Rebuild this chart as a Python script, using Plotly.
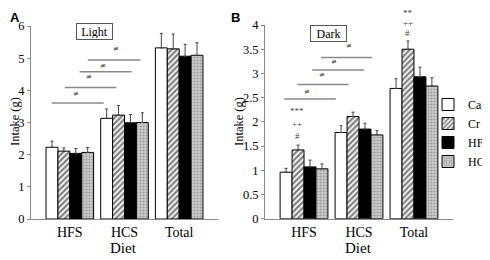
import plotly.graph_objects as go

categories = ["HFS", "HCS", "Total"]
groups = ["Ca", "Cr", "HF", "HC"]

# Panel A (Light) means and upper SEM
light_vals = {
    "Ca": [2.23, 3.13, 5.32],
    "Cr": [2.11, 3.23, 5.29],
    "HF": [2.04, 2.99, 5.06],
    "HC": [2.07, 3.00, 5.09],
}
light_err = {
    "Ca": [0.19, 0.29, 0.45],
    "Cr": [0.10, 0.30, 0.46],
    "HF": [0.15, 0.26, 0.37],
    "HC": [0.15, 0.30, 0.39],
}
# Panel B (Dark)
dark_vals = {
    "Ca": [0.96, 1.78, 2.69],
    "Cr": [1.42, 2.11, 3.50],
    "HF": [1.07, 1.85, 2.93],
    "HC": [1.03, 1.73, 2.74],
}
dark_err = {
    "Ca": [0.08, 0.14, 0.20],
    "Cr": [0.10, 0.09, 0.17],
    "HF": [0.14, 0.12, 0.20],
    "HC": [0.10, 0.09, 0.17],
}

light_ticks = [0, 1, 2, 3, 4, 5, 6]
dark_ticks = [0, 0.5, 1, 1.5, 2, 2.5, 3, 3.5, 4]

SERIF = "Liberation Serif"

styles = {
    "Ca": dict(color="white", pattern=None),
    "Cr": dict(color="white", pattern=dict(shape="/", fgcolor="black", bgcolor="white", size=4, solidity=0.55)),
    "HF": dict(color="black", pattern=None),
    "HC": dict(color="#bdbdbd", pattern=dict(shape=".", fgcolor="#666666", bgcolor="#cccccc", size=3, solidity=0.35)),
}

fig = go.Figure()

def add_panel(vals, errs, xa, ya, show):
    for g in groups:
        st = styles[g]
        marker = dict(color=st["color"], line=dict(color="black", width=1))
        if st["pattern"] is not None:
            marker["pattern"] = st["pattern"]
        fig.add_trace(go.Bar(
            x=categories, y=vals[g], name=g, marker=marker,
            error_y=dict(type="data", array=errs[g], arrayminus=[0] * len(errs[g]),
                         symmetric=False, color="#444", thickness=1, width=1.5),
            xaxis=xa, yaxis=ya, showlegend=show, legendgroup=g,
        ))

add_panel(light_vals, light_err, "x", "y", False)
add_panel(dark_vals, dark_err, "x2", "y2", True)

# The page places the figure 8 px in from the window's top-left corner,
# so the figure is 8 px smaller and screen positions are converted here.
OFF = 8
W, H = 490 - OFF, 260 - OFF

def SX(x):
    return (x - OFF) / W

def SY(y):
    return 1 - (y - OFF) / H

axis_common = dict(showline=True, linecolor="#8a8a8a", linewidth=1, showgrid=False,
                   zeroline=False, automargin=False)

fig.update_layout(
    width=W, height=H, margin=dict(l=0, r=0, t=0, b=0, autoexpand=False),
    paper_bgcolor="white", plot_bgcolor="white",
    barmode="group", bargap=0.13, bargroupgap=0,
    font=dict(family=SERIF, color="black"),
    xaxis=dict(domain=[SX(31), SX(218)], range=[-0.71, 2.71], anchor="y",
               ticks="", tickfont=dict(size=14, family=SERIF), **axis_common),
    yaxis=dict(domain=[SY(219), SY(26)], range=[0, 6], anchor="x",
               tickvals=light_ticks, ticks="outside", ticklen=3, tickcolor="#8a8a8a",
               tickfont=dict(size=12.5, family=SERIF), **axis_common),
    xaxis2=dict(domain=[SX(265), SX(453)], range=[-0.71, 2.71], anchor="y2",
                ticks="", tickfont=dict(size=14, family=SERIF), **axis_common),
    yaxis2=dict(domain=[SY(218.7), SY(25)], range=[0, 4], anchor="x2",
                tickvals=dark_ticks, ticktext=[("%g" % v) for v in dark_ticks],
                ticks="outside", ticklen=3, tickcolor="#8a8a8a",
                tickfont=dict(size=12.5, family=SERIF), **axis_common),
    legend=dict(x=1, y=SY(90), xanchor="right", yanchor="top",
                font=dict(size=12, family=SERIF), bgcolor="rgba(0,0,0,0)",
                itemwidth=30, tracegroupgap=0),
)

# significance lines (layout decorations)
light_lines = [(-0.33, 0.62, 3.61), (-0.09, 0.85, 4.09), (0.18, 1.13, 4.58), (0.33, 1.29, 4.94)]
light_neq = [(0.11, 3.88), (0.35, 4.41), (0.60, 4.75), (0.85, 5.28)]
dark_lines = [(-0.36, 0.58, 2.47), (-0.12, 0.81, 2.77), (0.15, 1.09, 3.07), (0.31, 1.24, 3.33)]
dark_neq = [(0.05, 2.62), (0.33, 2.97), (0.55, 3.24), (0.82, 3.57)]

shapes = []
annotations = []
C = dict(xanchor="center", yanchor="middle", showarrow=False)
for (x0, x1, yv) in light_lines:
    shapes.append(dict(type="line", xref="x", yref="y", x0=x0, x1=x1, y0=yv, y1=yv,
                       line=dict(color="#8a8a8a", width=1.5)))
for (x0, x1, yv) in dark_lines:
    shapes.append(dict(type="line", xref="x2", yref="y2", x0=x0, x1=x1, y0=yv, y1=yv,
                       line=dict(color="#8a8a8a", width=1.5)))
for (xv, yv) in light_neq:
    annotations.append(dict(x=xv, y=yv, xref="x", yref="y", text="≠",
                            font=dict(size=7, family="DejaVu Sans", color="#333"), **C))
for (xv, yv) in dark_neq:
    annotations.append(dict(x=xv, y=yv, xref="x2", yref="y2", text="≠",
                            font=dict(size=7, family="DejaVu Sans", color="#333"), **C))

# condition boxes
annotations.append(dict(x=0.46, y=5.84, xref="x", yref="y", text="Light",
                        font=dict(size=12, family=SERIF), bordercolor="#555", borderwidth=1,
                        borderpad=1, width=33, height=13, **C))
annotations.append(dict(x=0.45, y=3.82, xref="x2", yref="y2", text="Dark",
                        font=dict(size=12, family=SERIF), bordercolor="#555", borderwidth=1,
                        borderpad=1, width=33, height=13, **C))

# significance markers (panel B, above Cr bars); screen y -> y2-domain fraction
def dom(py):
    return (218.7 - py) / 193.7

sig = [(-0.12, 111, "***"), (-0.12, 124, "++"), (-0.12, 136, "#"),
       (1.89, 13, "**"), (1.89, 23, "++"), (1.89, 33, "#")]
for (xv, py, t) in sig:
    annotations.append(dict(x=xv, y=dom(py), xref="x2", yref="y2 domain", text=t,
                            font=dict(size=9, family=SERIF, color="#444"), **C))

# axis titles & panel letters
annotations += [
    dict(x=SX(15), y=SY(122), xref="paper", yref="paper", text="Intake (g)", textangle=-90,
         font=dict(size=12.5, family=SERIF), **C),
    dict(x=SX(239), y=SY(122), xref="paper", yref="paper", text="Intake (g)", textangle=-90,
         font=dict(size=12.5, family=SERIF), **C),
    dict(x=SX(123), y=SY(248), xref="paper", yref="paper", text="Diet",
         font=dict(size=15, family=SERIF), **C),
    dict(x=SX(358), y=SY(248), xref="paper", yref="paper", text="Diet",
         font=dict(size=15, family=SERIF), **C),
    dict(x=0, y=1, xref="paper", yref="paper", text="<b>A</b>", xanchor="left", yanchor="top",
         showarrow=False, font=dict(size=13, family="Liberation Sans")),
    dict(x=SX(229), y=1, xref="paper", yref="paper", text="<b>B</b>", xanchor="left", yanchor="top",
         showarrow=False, font=dict(size=13, family="Liberation Sans")),
]

fig.update_layout(shapes=shapes, annotations=annotations)
fig.write_html("out.html")
